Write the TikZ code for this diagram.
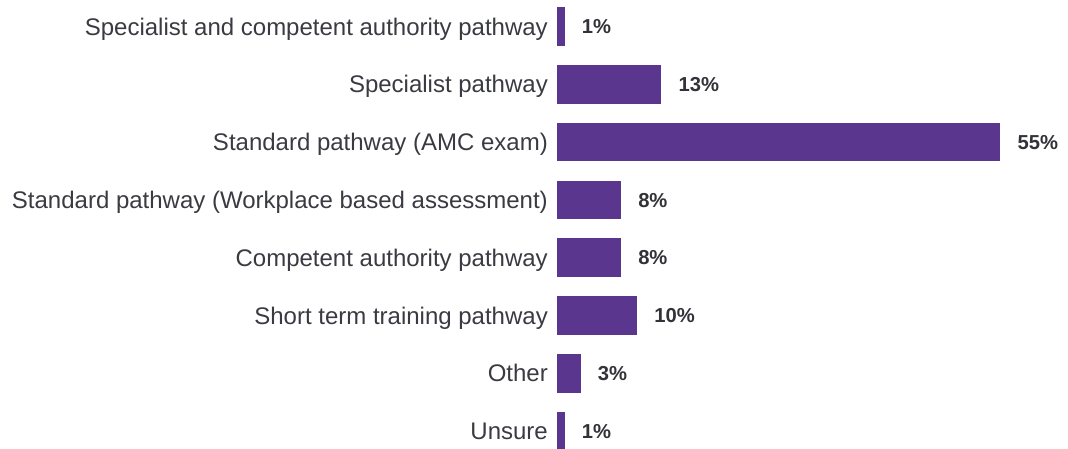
\documentclass[tikz,border=0pt]{standalone}
\usepackage{fontspec}
\setmainfont{Liberation Sans}
\definecolor{barpurple}{RGB}{91,54,143}
\definecolor{cattext}{RGB}{58,58,66}
\definecolor{pcttext}{RGB}{50,50,56}
\begin{document}
\begin{tikzpicture}[x=1pt,y=1pt,
  bar/.style={fill=barpurple, draw=none, inner sep=0pt, outer sep=0pt, minimum height=38.5pt, anchor=west},
  cat/.style={anchor=east, inner sep=0pt, text=cattext, font=\fontsize{24}{28}\selectfont, text height=17.2pt, text depth=0pt},
  pct/.style={anchor=west, inner sep=0pt, text=pcttext, font=\fontsize{20.2}{24}\selectfont\bfseries, text height=14.5pt, text depth=0pt, xshift=17pt}]
\useasboundingbox (0,0) rectangle (1068,-448);
\def\unit{8.07}
\foreach \i/\v/\p/\t in {0/1/1\%/Specialist and competent authority pathway,
                         1/13/13\%/Specialist pathway,
                         2/55/55\%/Standard pathway (AMC exam),
                         3/8/8\%/Standard pathway (Workplace based assessment),
                         4/8/8\%/Competent authority pathway,
                         5/10/10\%/Short term training pathway,
                         6/3/3\%/Other,
                         7/1/1\%/Unsure}{
  \pgfmathsetmacro{\cy}{-(26.5+57.8*\i)}
  \pgfmathsetmacro{\w}{\unit*\v}
  \node[bar, minimum width=\w pt] (bar\i) at (556.5,\cy) {};
  \node[cat] (cat\i) at (548,\cy) {\t};
  \node[pct] (pct\i) at (bar\i.east) {\p};
}
\end{tikzpicture}
\end{document}
